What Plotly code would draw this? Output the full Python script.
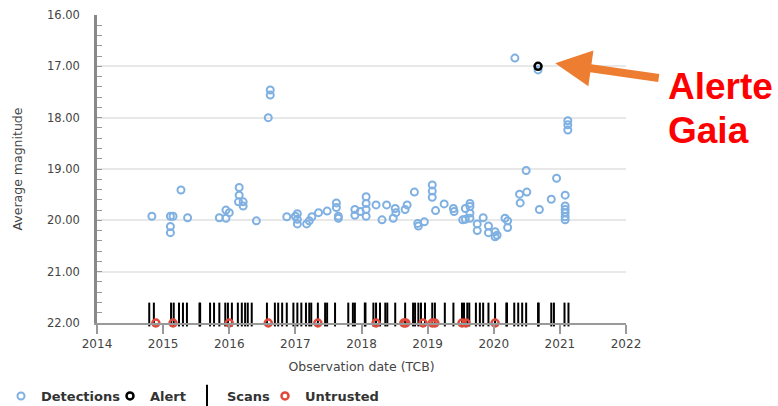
import plotly.graph_objects as go

# ---------------- data ----------------
det_dates = [2014.83, 2015.11, 2015.15, 2015.11, 2015.11, 2015.27, 2015.37,
             2015.85, 2015.95, 2016.00, 2015.95, 2016.15, 2016.15, 2016.14,
             2016.21, 2016.21, 2016.41, 2016.59, 2016.62, 2016.62,
             2016.87, 2017.00, 2017.03, 2017.03, 2017.03, 2017.17, 2017.21,
             2017.25, 2017.35, 2017.48, 2017.62, 2017.62, 2017.65, 2017.65,
             2017.90, 2017.90, 2017.98, 2018.07, 2018.07, 2018.07, 2018.07,
             2018.22, 2018.31, 2018.38, 2018.48, 2018.51, 2018.52, 2018.66,
             2018.69, 2018.80, 2018.85, 2018.86, 2018.95, 2019.07, 2019.07,
             2019.07, 2019.12, 2019.25, 2019.39, 2019.40, 2019.53, 2019.57,
             2019.57, 2019.64, 2019.64, 2019.64, 2019.64, 2019.75, 2019.75,
             2019.84, 2019.92, 2019.92, 2020.02, 2020.02, 2020.05, 2020.17,
             2020.21, 2020.21, 2020.32, 2020.39, 2020.40, 2020.49, 2020.50,
             2020.67, 2020.69, 2020.87, 2020.95, 2021.08, 2021.08, 2021.08,
             2021.08, 2021.08, 2021.08, 2021.12, 2021.12, 2021.12]
det_mags = [19.92, 19.92, 19.92, 20.12, 20.24, 19.41, 19.95,
            19.95, 19.80, 19.85, 19.96, 19.36, 19.51, 19.64,
            19.64, 19.72, 20.01, 18.00, 17.46, 17.56,
            19.93, 19.92, 19.87, 19.98, 20.07, 20.07, 20.01,
            19.93, 19.85, 19.82, 19.66, 19.75, 19.92, 19.96,
            19.79, 19.90, 19.83, 19.54, 19.67, 19.79, 19.92,
            19.70, 19.99, 19.70, 19.96, 19.77, 19.85, 19.79,
            19.70, 19.45, 20.06, 20.11, 20.03, 19.31, 19.43,
            19.55, 19.81, 19.68, 19.77, 19.83, 19.99, 19.77,
            19.98, 19.73, 19.67, 19.86, 19.96, 20.07, 20.20,
            19.95, 20.11, 20.24, 20.22, 20.32, 20.29, 19.96,
            20.01, 20.14, 16.84, 19.49, 19.66, 19.03, 19.45,
            17.07, 19.79, 19.59, 19.18, 19.51, 19.72, 19.79,
            19.85, 19.93, 19.99, 18.06, 18.14, 18.24]

alert_dates = [2020.67]
alert_mags = [17.00]

scan_dates = [2014.79, 2014.86, 2015.12, 2015.16, 2015.24, 2015.30, 2015.36,
              2015.55, 2015.56, 2015.71, 2015.77, 2015.85, 2015.94, 2015.98,
              2016.04, 2016.13, 2016.19, 2016.24, 2016.28, 2016.34, 2016.57,
              2016.69, 2016.74, 2016.80, 2016.87, 2016.97, 2017.03, 2017.09,
              2017.16, 2017.21, 2017.24, 2017.34, 2017.45, 2017.48, 2017.60,
              2017.80, 2017.87, 2017.90, 2018.05, 2018.06, 2018.18, 2018.22,
              2018.28, 2018.36, 2018.39, 2018.51, 2018.66, 2018.78, 2018.81,
              2018.86, 2018.90, 2018.96, 2019.07, 2019.11, 2019.26, 2019.39,
              2019.52, 2019.55, 2019.60, 2019.63, 2019.73, 2019.79, 2019.84,
              2019.92, 2020.02, 2020.19, 2020.20, 2020.31, 2020.37, 2020.43,
              2020.49, 2020.67, 2020.68, 2020.87, 2020.91, 2021.07, 2021.13]
scan_level = 21.835

untrusted_dates = [2014.89, 2015.15, 2016.00, 2016.59, 2017.34, 2018.22,
                   2018.64, 2018.67, 2018.93, 2019.07, 2019.11, 2019.52,
                   2019.58, 2020.02]
untrusted_level = 22.0

year_ticks = [2014, 2015, 2016, 2017, 2018, 2019, 2020, 2021, 2022]
mag_ticks = [16, 17, 18, 19, 20, 21, 22]

FONT = "DejaVu Sans"
W, H = 778, 406

fig = go.Figure()

fig.add_trace(go.Scatter(
    x=scan_dates, y=[scan_level] * len(scan_dates), mode="markers",
    name="Scans", legend="legend3",
    marker=dict(symbol="line-ns", size=17, color="black",
                line=dict(color="black", width=2)),
    cliponaxis=False))

fig.add_trace(go.Scatter(
    x=det_dates, y=det_mags, mode="markers", name="Detections",
    legend="legend",
    marker=dict(symbol="circle-open", size=7, color="#7fb0e2",
                line=dict(color="#7fb0e2", width=2)),
    cliponaxis=False))

fig.add_trace(go.Scatter(
    x=alert_dates, y=alert_mags, mode="markers", name="Alert",
    legend="legend2",
    marker=dict(symbol="circle-open", size=7, color="black",
                line=dict(color="black", width=2.5)),
    cliponaxis=False))

fig.add_trace(go.Scatter(
    x=untrusted_dates, y=[untrusted_level] * len(untrusted_dates),
    mode="markers", name="Untrusted", legend="legend4",
    marker=dict(symbol="circle-open", size=7, color="#e04a3c",
                line=dict(color="#e04a3c", width=2.5)),
    cliponaxis=False))

legfont = dict(family=FONT, size=13, color="#333", weight="bold")


def leg(px, py=396):
    return dict(xref="container", yref="container", x=px / W,
                y=1 - py / H, xanchor="left", yanchor="middle",
                orientation="h", font=legfont, bgcolor="rgba(0,0,0,0)")


fig.update_layout(
    width=W, height=H,
    margin=dict(l=97, r=152, t=15, b=83, autoexpand=False),
    paper_bgcolor="white", plot_bgcolor="white",
    font=dict(family=FONT, size=12, color="#444"),
    showlegend=True,
    legend=leg(1),
    legend2=leg(110),
    legend3=leg(187),
    legend4=leg(265),
)

fig.update_xaxes(
    range=[2014, 2022], tickvals=year_ticks,
    ticktext=[str(t) for t in year_ticks],
    showgrid=False, zeroline=False,
    showline=True, linecolor="#999", linewidth=1.5,
    ticks="outside", ticklen=9, tickcolor="#999", tickwidth=1.5,
    tickfont=dict(family=FONT, size=12, color="#444"),
    title=dict(text="Observation date (TCB)",
               font=dict(family=FONT, size=12.5, color="#444"), standoff=12),
)

fig.update_yaxes(
    range=[22, 16], tickvals=mag_ticks,
    ticktext=[f"{t:.2f}" for t in mag_ticks],
    showgrid=True, gridcolor="#e8e8e8", gridwidth=1.5, zeroline=False,
    showline=True, linecolor="#888", linewidth=2.5,
    ticks="inside", ticklen=5, tickcolor="#999", tickwidth=1,
    ticklabelstandoff=12,
    minor=dict(dtick=0.2, tick0=16, ticks="inside", ticklen=5,
               tickcolor="#999", showgrid=False),
    tickfont=dict(family=FONT, size=11.5, color="#444"),
    title=dict(text="Average magnitude",
               font=dict(family=FONT, size=12.5, color="#444"), standoff=22),
)

# Arrow pointing to the alert
fig.add_annotation(
    x=2020.93, y=16.94, xref="x", yref="y",
    ax=105, ay=15, axref="pixel", ayref="pixel",
    text="", showarrow=True, arrowhead=2, arrowsize=0.9,
    arrowwidth=8, arrowcolor="#ED7D31", standoff=0)

for txt, py in (("Alerte", 86.5), ("Gaia", 130)):
    fig.add_annotation(
        x=1.075, y=(323 - py) / 308, xref="paper", yref="paper",
        xanchor="left", yanchor="middle", align="left", showarrow=False,
        text=txt,
        font=dict(family="Liberation Sans", size=37, color="#ff0000",
                  weight="bold"))

fig.write_html("out.html")
